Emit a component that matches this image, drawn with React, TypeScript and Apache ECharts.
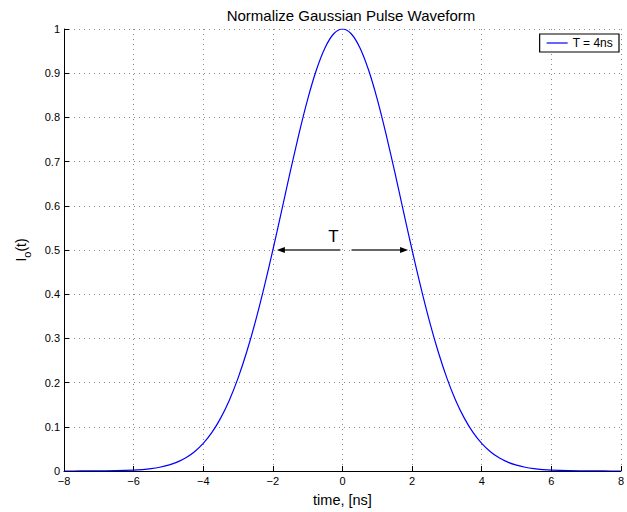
import React, { useEffect, useRef } from "react";
import * as echarts from "echarts";

const titleText = "Normalize Gaussian Pulse Waveform";
const seriesName = "T = 4ns";
const xAxisName = "time, [ns]";

const timeNs = [
  -8, -7.5, -7, -6.5, -6, -5.75, -5.5, -5.25, -5, -4.75, -4.5, -4.25, -4, -3.75, -3.5, -3.25,
  -3, -2.75, -2.5, -2.25, -2, -1.75, -1.5, -1.25, -1, -0.75, -0.5, -0.25, 0,
  0.25, 0.5, 0.75, 1, 1.25, 1.5, 1.75, 2, 2.25, 2.5, 2.75, 3, 3.25, 3.5, 3.75,
  4, 4.25, 4.5, 4.75, 5, 5.25, 5.5, 5.75, 6, 6.5, 7, 7.5, 8,
];
const intensity = [
  0.0000153, 0.0000584, 0.000205, 0.00066, 0.00195, 0.00325, 0.00529, 0.00842, 0.01314, 0.02, 0.0299, 0.0437, 0.0625, 0.0874, 0.1197, 0.1603,
  0.2102, 0.2697, 0.3385, 0.4159, 0.5, 0.5882, 0.6771, 0.7628, 0.8409, 0.9071, 0.9576, 0.9892, 1,
  0.9892, 0.9576, 0.9071, 0.8409, 0.7628, 0.6771, 0.5882, 0.5, 0.4159, 0.3385, 0.2697, 0.2102, 0.1603, 0.1197, 0.0874,
  0.0625, 0.0437, 0.0299, 0.02, 0.01314, 0.00842, 0.00529, 0.00325, 0.00195, 0.00066, 0.000205, 0.0000584, 0.0000153,
];

// Width marker (T) arrows at half maximum
const leftArrow = [[-0.06, 0.5], [-1.76, 0.5]];
const rightArrow = [[0.26, 0.5], [1.76, 0.5]];
const leftHead = [-1.77, 0.5];
const rightHead = [1.77, 0.5];
const markerLabel = "T";
const markerLabelPos = [-0.26, 0.531];

const FONT = "'Liberation Sans', Arial, Helvetica, sans-serif";

export default function App() {
  const ref = useRef<HTMLDivElement>(null);
  useEffect(() => {
    if (!ref.current) return;
    const chart = echarts.init(ref.current, null, { renderer: "svg" });
    const data = timeNs.map((t, i) => [t, intensity[i]]);
    chart.setOption({
      animation: false,
      backgroundColor: "#ffffff",
      textStyle: { fontFamily: FONT },
      title: {
        text: titleText,
        left: 346,
        textAlign: "center",
        top: 3,
        textStyle: { fontFamily: FONT, fontSize: 15, fontWeight: "normal", color: "#000" },
      },
      legend: {
        data: [{ name: seriesName, icon: "rect" }],
        right: 8,
        top: 34,
        orient: "vertical",
        backgroundColor: "#fff",
        borderColor: "#000",
        borderWidth: 1.2,
        borderRadius: 0,
        padding: [3, 6, 3, 7],
        itemWidth: 21,
        itemHeight: 1.2,
        itemGap: 0,
        textStyle: { fontFamily: FONT, fontSize: 12, color: "#000" },
      },
      grid: { left: 64, right: 2, top: 29, bottom: 41, containLabel: false },
      xAxis: {
        type: "value",
        min: -8,
        max: 8,
        interval: 2,
        name: xAxisName,
        nameLocation: "middle",
        nameGap: 21,
        nameTextStyle: { fontFamily: FONT, fontSize: 14.5, color: "#000" },
        axisLine: { show: true, onZero: false, lineStyle: { color: "#000", width: 1 } },
        axisTick: { show: true, inside: true, length: 5, lineStyle: { color: "#000" } },
        axisLabel: {
          fontFamily: FONT,
          fontSize: 11,
          color: "#000",
          margin: 4,
          formatter: (v: number) => (v < 0 ? "\u2212" + Math.abs(v) : String(v)),
        },
        splitLine: { show: true, lineStyle: { color: "#8a8a8a", type: [1, 4], width: 1 } },
      },
      yAxis: {
        type: "value",
        min: 0,
        max: 1,
        interval: 0.1,
        name: "I{sub|o}(t)",
        nameLocation: "middle",
        nameGap: 32,
        nameRotate: 90,
        nameTextStyle: {
          fontFamily: FONT,
          fontSize: 14,
          color: "#000",
          rich: {
            sub: { fontFamily: FONT, fontSize: 11, color: "#000", padding: [12, 0, 0, 0] },
          },
        },
        axisLine: { show: true, onZero: false, lineStyle: { color: "#000", width: 1 } },
        axisTick: { show: true, inside: true, length: 5, lineStyle: { color: "#000" } },
        axisLabel: {
          fontFamily: FONT,
          fontSize: 11,
          color: "#000",
          margin: 4,
          formatter: (v: number) => String(Math.round(v * 10) / 10),
        },
        splitLine: { show: true, lineStyle: { color: "#8a8a8a", type: [1, 4], width: 1 } },
      },
      series: [
        {
          name: seriesName,
          type: "line",
          data,
          smooth: 0.3,
          showSymbol: false,
          symbol: "none",
          color: "#0000ff",
          lineStyle: { color: "#0000ff", width: 1.2 },
          z: 3,
        },
        {
          name: "arrows",
          type: "line",
          data: [],
          silent: true,
          markLine: {
            silent: true,
            symbol: ["none", "none"],
            label: { show: false },
            lineStyle: { color: "#666", width: 2, type: "solid" },
            data: [
              [{ coord: leftArrow[0] }, { coord: leftArrow[1] }],
              [{ coord: rightArrow[0] }, { coord: rightArrow[1] }],
            ],
          },
          markPoint: {
            silent: true,
            data: [
              { coord: leftHead, symbol: "triangle", symbolSize: [6, 8], symbolRotate: 90, itemStyle: { color: "#000" }, label: { show: false } },
              { coord: rightHead, symbol: "triangle", symbolSize: [6, 8], symbolRotate: -90, itemStyle: { color: "#000" }, label: { show: false } },
              {
                coord: markerLabelPos,
                symbol: "rect",
                symbolSize: 0,
                label: { show: true, formatter: markerLabel, position: "inside", fontFamily: FONT, fontSize: 17, color: "#000" },
              },
            ],
          },
        },
      ],
    });
    return () => chart.dispose();
  }, []);
  return <div ref={ref} style={{ position: "absolute", left: 0, top: 0, width: 627, height: 512 }} />;
}
